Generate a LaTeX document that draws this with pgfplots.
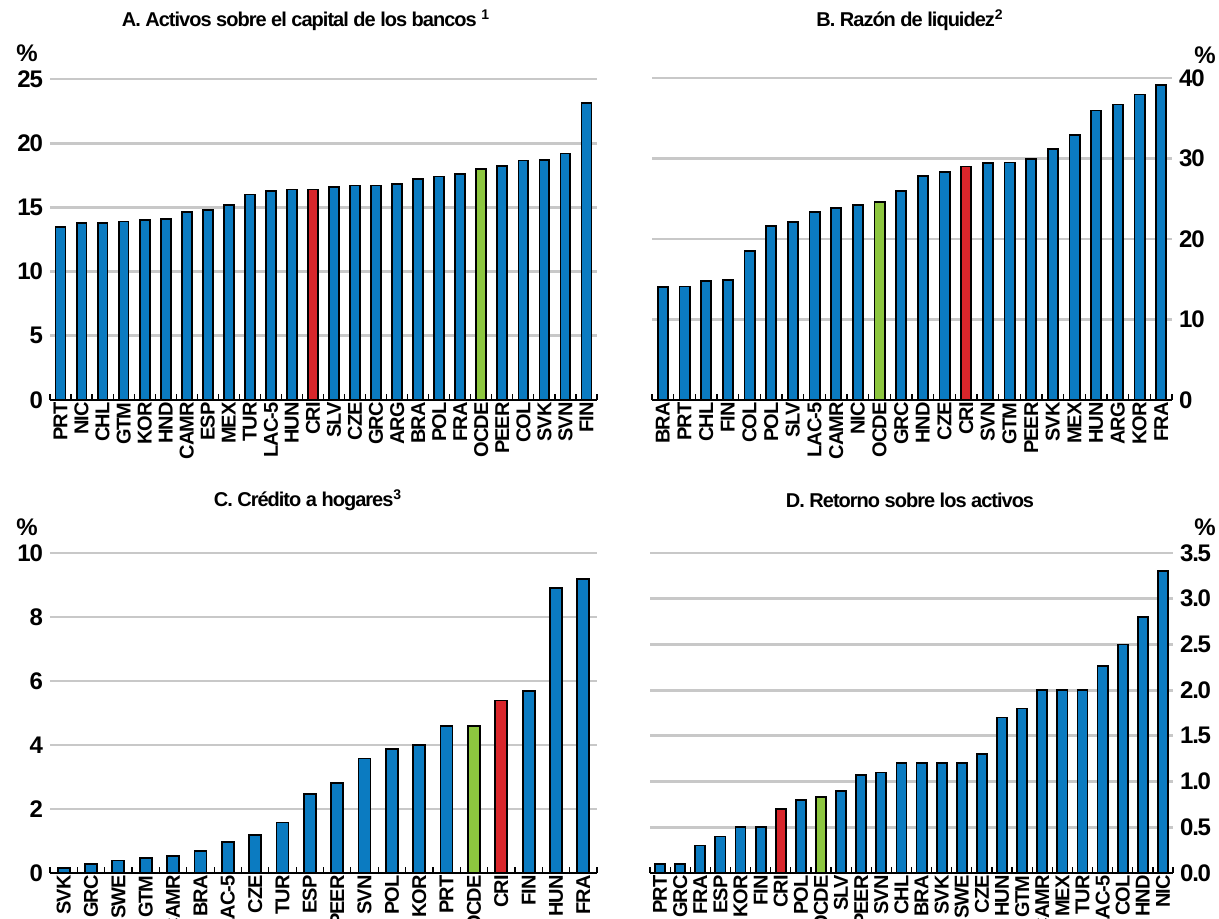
\documentclass[border=0pt]{standalone}
\usepackage{fontspec}
\newfontfamily\chartfont{Liberation Sans}[LetterSpace=-5]
\usepackage{pgfplots}
\usepackage{pgfplotstable}
\pgfplotsset{compat=1.18}

\definecolor{oblue}{HTML}{0B7BC1}
\definecolor{ored}{HTML}{D9262B}
\definecolor{ogreen}{HTML}{8DC63F}
\definecolor{gridgray}{HTML}{C8C8C8}

% A. Activos sobre el capital de los bancos
\pgfplotstableread{
x lab v
0 PRT 13.5
1 NIC 13.8
2 CHL 13.8
3 GTM 13.9
4 KOR 14.0
5 HND 14.1
6 CAMR 14.65
7 ESP 14.8
8 MEX 15.2
9 TUR 16.0
10 LAC-5 16.3
11 HUN 16.4
12 CRI 16.4
13 SLV 16.6
14 CZE 16.7
15 GRC 16.7
16 ARG 16.8
17 BRA 17.2
18 POL 17.4
19 FRA 17.6
20 OCDE 18.0
21 PEER 18.2
22 COL 18.65
23 SVK 18.7
24 SVN 19.2
25 FIN 23.1
}\tA

% B. Razon de liquidez
\pgfplotstableread{
x lab v
0 BRA 14.0
1 PRT 14.1
2 CHL 14.75
3 FIN 14.95
4 COL 18.55
5 POL 21.65
6 SLV 22.15
7 LAC-5 23.35
8 CAMR 23.85
9 NIC 24.2
10 OCDE 24.6
11 GRC 26.0
12 HND 27.8
13 CZE 28.3
14 CRI 29.0
15 SVN 29.4
16 GTM 29.5
17 PEER 29.9
18 SVK 31.2
19 MEX 32.9
20 HUN 35.95
21 ARG 36.7
22 KOR 37.95
23 FRA 39.15
}\tB

% C. Credito a hogares
\pgfplotstableread{
x lab v
0 SVK 0.16
1 GRC 0.29
2 SWE 0.39
3 GTM 0.48
4 CAMR 0.52
5 BRA 0.68
6 LAC-5 0.98
7 CZE 1.18
8 TUR 1.58
9 ESP 2.48
10 PEER 2.81
11 SVN 3.58
12 POL 3.88
13 KOR 4.0
14 PRT 4.59
15 OCDE 4.59
16 CRI 5.39
17 FIN 5.69
18 HUN 8.9
19 FRA 9.19
}\tC

% D. Retorno sobre los activos
\pgfplotstableread{
x lab v
0 PRT 0.1
1 GRC 0.1
2 FRA 0.3
3 ESP 0.4
4 KOR 0.5
5 FIN 0.5
6 CRI 0.7
7 POL 0.8
8 OCDE 0.83
9 SLV 0.9
10 PEER 1.07
11 SVN 1.1
12 CHL 1.2
13 BRA 1.2
14 SVK 1.2
15 SWE 1.2
16 CZE 1.3
17 HUN 1.7
18 GTM 1.8
19 CAMR 2.0
20 MEX 2.0
21 TUR 2.0
22 LAC-5 2.26
23 COL 2.5
24 HND 2.8
25 NIC 3.3
}\tD

\pgfplotsset{
  panel/.style={
    scale only axis, ybar, bar width=0.47, ymin=0,
    axis x line*=bottom,
    x axis line style={-, black, line width=1pt},
    y axis line style={draw=none},
    ymajorgrids,
    grid style={draw=gridgray, line width=1.4pt},
    major tick length=0pt,
    minor tick length=3pt,
    tick align=inside,
    minor x tick style={black, line width=0.6pt},
    xticklabel style={rotate=90, anchor=east, inner sep=1pt,
      font=\chartfont\bfseries\fontsize{10}{10}\selectfont},
    yticklabel style={font=\chartfont\bfseries\fontsize{12}{12}\selectfont},
    /pgf/number format/assume math mode=true,
    clip=false,
  },
  barstyle/.style={draw=black, line width=0.9pt, bar shift=0pt, fill=#1},
}

\begin{document}
\begin{tikzpicture}[x=0.5pt,y=0.5pt]

% Panel A
\begin{axis}[panel, at={(25pt,259.5pt)}, anchor=south west,
  width=273.5pt, height=160.5pt,
  xmin=-0.5, xmax=25.5, ymax=25, ytick={0,5,...,25},
  axis y line*=left,
  xtick={0,...,25}, xticklabels from table={\tA}{lab},
  minor xtick={-0.5,0.5,...,25.5}]
\addplot[barstyle=oblue] table[x=x, y=v] {\tA};
\addplot[barstyle=ored] coordinates {(12,16.4)};
\addplot[barstyle=ogreen] coordinates {(20,18.0)};
\end{axis}

% Panel B
\begin{axis}[panel, at={(326pt,259.5pt)}, anchor=south west,
  width=260pt, height=161pt,
  xmin=-0.5, xmax=23.5, ymax=40, ytick={0,10,...,40},
  axis y line*=right,
  xtick={0,...,23}, xticklabels from table={\tB}{lab},
  minor xtick={-0.5,0.5,...,23.5}]
\addplot[barstyle=oblue] table[x=x, y=v] {\tB};
\addplot[barstyle=ored] coordinates {(14,29.0)};
\addplot[barstyle=ogreen] coordinates {(10,24.6)};
\end{axis}

% Panel C
\begin{axis}[panel, at={(25pt,23pt)}, anchor=south west,
  width=273.5pt, height=160pt, bar width=0.44,
  xmin=-0.5, xmax=19.5, ymax=10, ytick={0,2,...,10},
  axis y line*=left,
  xtick={0,...,19}, xticklabels from table={\tC}{lab},
  minor xtick={-0.5,0.5,...,19.5}]
\addplot[barstyle=oblue] table[x=x, y=v] {\tC};
\addplot[barstyle=ored] coordinates {(16,5.39)};
\addplot[barstyle=ogreen] coordinates {(15,4.59)};
\end{axis}

% Panel D
\begin{axis}[panel, at={(325pt,23pt)}, anchor=south west,
  width=261.5pt, height=160pt, bar width=0.5,
  xmin=-0.5, xmax=25.5, ymax=3.5, ytick={0,0.5,...,3.5},
  axis y line*=right,
  yticklabel style={/pgf/number format/.cd, fixed, fixed zerofill, precision=1},
  xtick={0,...,25}, xticklabels from table={\tD}{lab},
  minor xtick={-0.5,0.5,...,25.5}]
\addplot[barstyle=oblue] table[x=x, y=v] {\tD};
\addplot[barstyle=ored] coordinates {(6,0.7)};
\addplot[barstyle=ogreen] coordinates {(8,0.83)};
\end{axis}

% titles and units
\begin{scope}[font=\chartfont\bfseries\fontsize{10}{12}\selectfont]
\node at (306,899) {A. Activos sobre el capital de los bancos \textsuperscript{1}};
\node at (910,899) {B. Razón de liquidez\textsuperscript{2}};
\node at (308,419) {C. Crédito a hogares\textsuperscript{3}};
\node at (910,419) {D. Retorno sobre los activos};
\end{scope}
\begin{scope}[font=\chartfont\bfseries\fontsize{12}{12}\selectfont]
\node at (27,866) {\%};
\node at (1205,864) {\%};
\node at (27,392) {\%};
\node at (1205,392) {\%};
\end{scope}

\pgfresetboundingbox
\useasboundingbox (0,0) rectangle (1219,919);
\end{tikzpicture}
\end{document}
